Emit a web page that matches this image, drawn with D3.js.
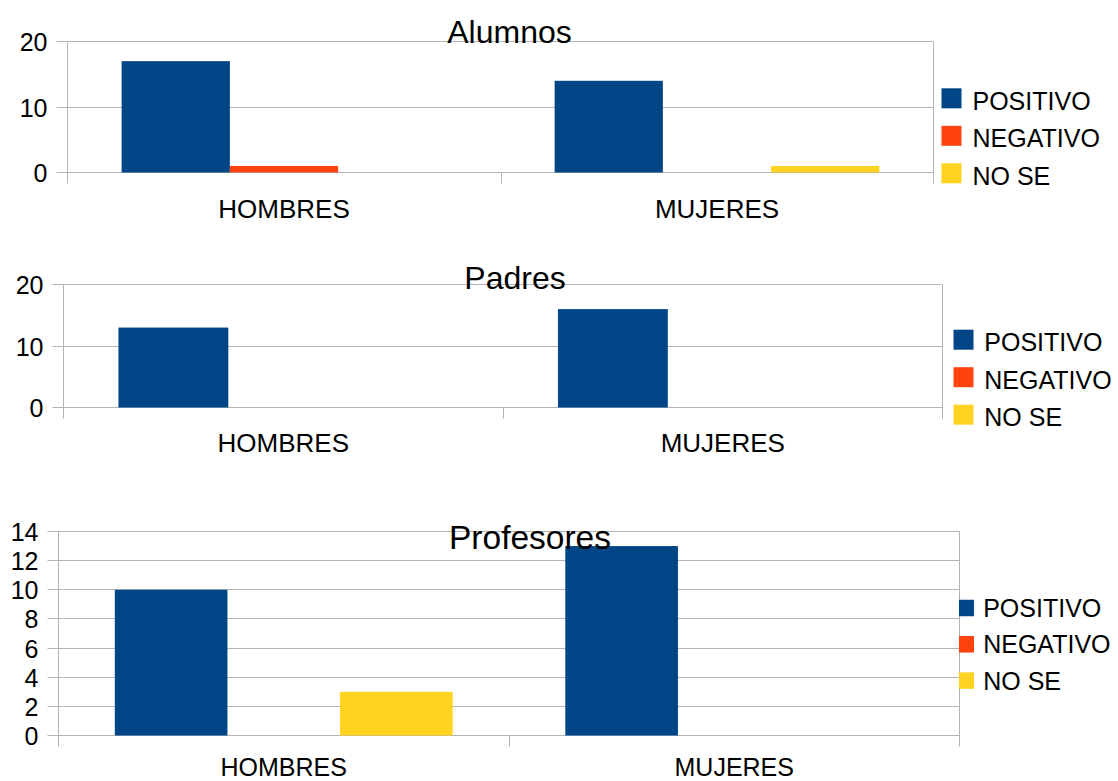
<!DOCTYPE html>
<html>
<head>
<meta charset="utf-8">
<script src="https://cdnjs.cloudflare.com/ajax/libs/d3/7.8.5/d3.min.js"></script>
<style>
  body { margin: 0; background: #ffffff; }
  svg { display: block; font-family: "Liberation Sans", Arial, sans-serif; }
</style>
</head>
<body>
<svg id="chart" width="1118" height="781"></svg>
<script>
// Survey answers grouped by gender, one panel per group
const categories = ["HOMBRES", "MUJERES"];
const seriesNames = ["POSITIVO", "NEGATIVO", "NO SE"];
const seriesColors = ["#004586", "#ff420e", "#ffd320"];

// values[category][series]
const alumnosValues = [[17, 1, 0], [14, 0, 1]];
const padresValues = [[13, 0, 0], [16, 0, 0]];
const profesoresValues = [[10, 0, 3], [13, 0, 0]];

const alumnosTicks = [0, 10, 20];
const padresTicks = [0, 10, 20];
const profesoresTicks = [0, 2, 4, 6, 8, 10, 12, 14];

// Panel layout (plot box, title, category labels, legend)
const panels = [
  { title: "Alumnos", values: alumnosValues, ticks: alumnosTicks,
    left: 67.5, right: 933.5, top: 41.5, bottom: 172.5,
    titleX: 509.5, titleY: 42.5, titleSize: 32, catY: 218, catSize: 26,
    legend: { x: 941.5, w: 20, h: 20, y0: 98.3, step: 37.5, textX: 972.5, dy: 11.5 } },
  { title: "Padres", values: padresValues, ticks: padresTicks,
    left: 63.5, right: 942.5, top: 284.5, bottom: 407.5,
    titleX: 515, titleY: 289, titleSize: 32, catY: 451.5, catSize: 26,
    legend: { x: 953.5, w: 20, h: 20, y0: 339.7, step: 37.5, textX: 984.3, dy: 11.5 } },
  { title: "Profesores", values: profesoresValues, ticks: profesoresTicks,
    left: 58.5, right: 959.5, top: 531.5, bottom: 735.5,
    titleX: 530, titleY: 548.5, titleSize: 33.5, catY: 775.5, catSize: 25,
    legend: { x: 959, w: 15, h: 16.5, y0: 608, step: 36.3, textX: 983.2, dy: 9 } }
];

const svg = d3.select("#chart");
const gridColor = "#b3b3b3";
const tickLen = 11;

panels.forEach(p => {
  const g = svg.append("g");
  const maxTick = d3.max(p.ticks);

  const x = d3.scaleBand().domain(categories).range([p.left, p.right]).padding(0);
  const xs = d3.scaleBand().domain(seriesNames).range([0, x.bandwidth()])
    .paddingInner(0).paddingOuter(0.5);
  const y = d3.scaleLinear().domain([0, maxTick]).range([p.bottom, p.top]);

  // horizontal grid lines with left tick marks
  g.selectAll("line.grid").data(p.ticks).join("line")
    .attr("class", "grid")
    .attr("x1", p.left - tickLen).attr("x2", p.right)
    .attr("y1", d => Math.round(y(d) - 0.5) + 0.5)
    .attr("y2", d => Math.round(y(d) - 0.5) + 0.5)
    .attr("stroke", gridColor).attr("stroke-width", 1);

  // y tick labels
  g.selectAll("text.ytick").data(p.ticks).join("text")
    .attr("class", "ytick")
    .attr("x", p.left - 20)
    .attr("y", d => y(d) + 9.5)
    .attr("text-anchor", "end")
    .attr("font-size", 25)
    .attr("fill", "#000")
    .text(d => d);

  // vertical axis, right border and category boundary ticks
  const bounds = [p.left, ...categories.slice(1).map(c => x(c)), p.right];
  g.selectAll("line.vb").data(bounds).join("line")
    .attr("class", "vb")
    .attr("x1", (d, i) => (i === 0 || i === bounds.length - 1) ? d : Math.round(d) + 0.5)
    .attr("x2", (d, i) => (i === 0 || i === bounds.length - 1) ? d : Math.round(d) + 0.5)
    .attr("y1", (d, i) => (i === 0 || i === bounds.length - 1) ? p.top : p.bottom)
    .attr("y2", p.bottom + tickLen)
    .attr("stroke", gridColor).attr("stroke-width", 1);

  // bars
  const barData = [];
  categories.forEach((c, ci) => {
    seriesNames.forEach((s, si) => {
      barData.push({ cat: c, series: s, color: seriesColors[si], value: p.values[ci][si] });
    });
  });
  g.selectAll("rect.bar").data(barData.filter(d => d.value > 0)).join("rect")
    .attr("class", "bar")
    .attr("x", d => x(d.cat) + xs(d.series))
    .attr("width", xs.bandwidth())
    .attr("y", d => y(d.value))
    .attr("height", d => y(0) - y(d.value))
    .attr("fill", d => d.color);

  // category labels
  g.selectAll("text.cat").data(categories).join("text")
    .attr("class", "cat")
    .attr("x", d => x(d) + x.bandwidth() / 2)
    .attr("y", p.catY)
    .attr("text-anchor", "middle")
    .attr("font-size", p.catSize)
    .attr("fill", "#000")
    .text(d => d);

  // legend
  const L = p.legend;
  const lg = g.selectAll("g.leg").data(seriesNames).join("g")
    .attr("class", "leg")
    .attr("transform", (d, i) => `translate(0,${L.y0 + i * L.step})`);
  lg.append("rect")
    .attr("x", L.x).attr("y", -L.h / 2)
    .attr("width", L.w).attr("height", L.h)
    .attr("fill", (d, i) => seriesColors[i]);
  lg.append("text")
    .attr("x", L.textX).attr("y", L.dy)
    .attr("font-size", 25)
    .attr("fill", "#000")
    .text(d => d);

  // panel title
  g.append("text")
    .attr("x", p.titleX).attr("y", p.titleY)
    .attr("text-anchor", "middle")
    .attr("font-size", p.titleSize)
    .attr("fill", "#000")
    .text(p.title);
});
</script>
</body>
</html>
